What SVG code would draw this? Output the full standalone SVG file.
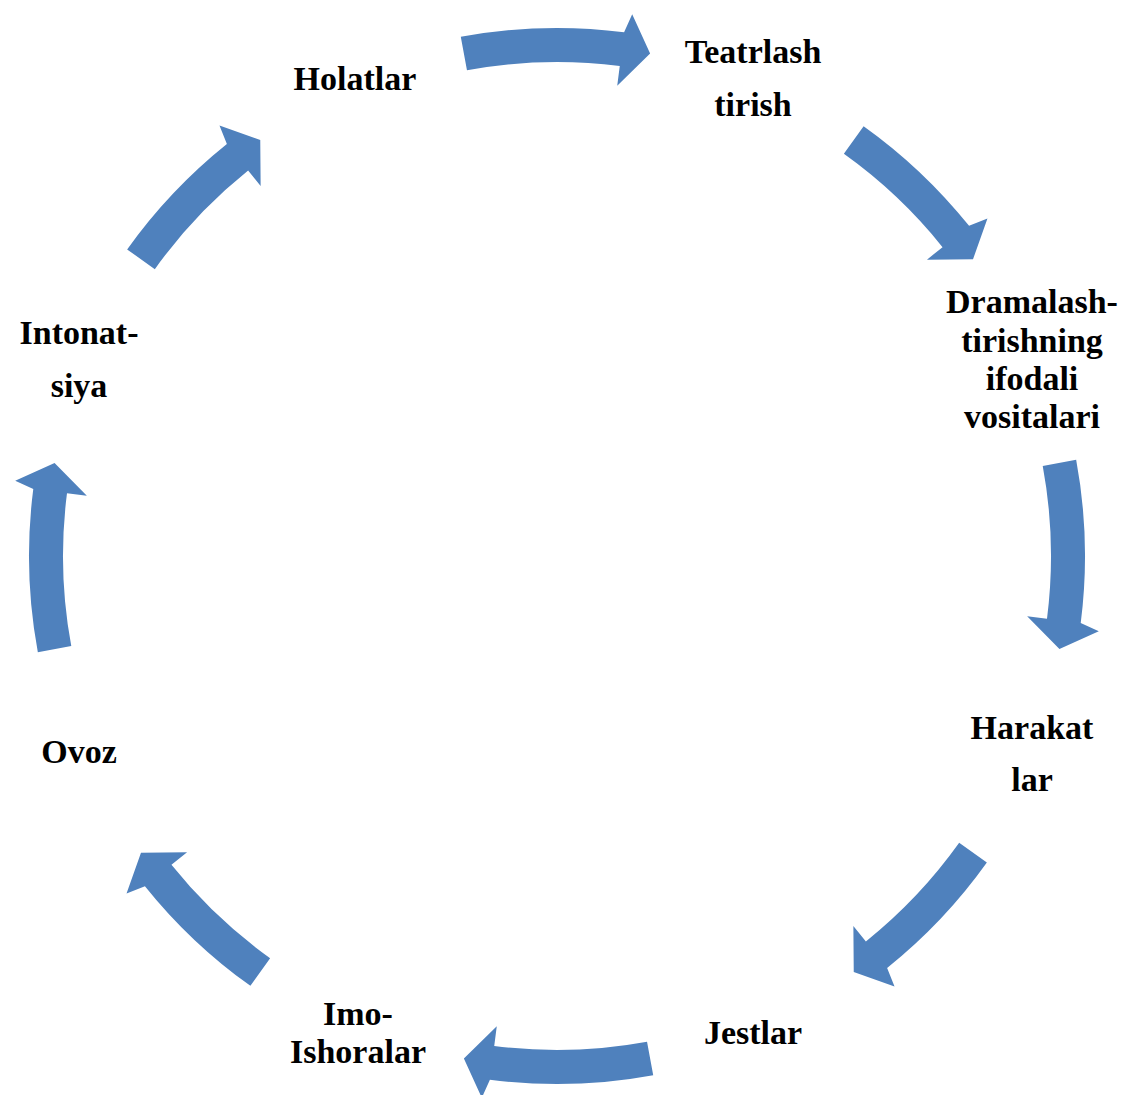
<svg xmlns="http://www.w3.org/2000/svg" xmlns:xlink="http://www.w3.org/1999/xlink" width="1127" height="1095" viewBox="0 0 1127 1095">
<style>
.arrow{fill:#4F81BD;stroke:none}
.lbl{font-family:"Liberation Serif","Times New Roman",serif;font-weight:bold;font-size:34px;fill:#000;text-anchor:middle}
</style>
<defs>
<path id="carrow" class="arrow" d="M460.78,36.84 A528,528 0 0 1 624.09,32.28 L632.2,14.2 L650.12,53.56 L617.23,85.84 L619.77,66.0 A494,494 0 0 0 466.97,70.27 Z"/>
<path id="darrow" class="arrow" d="M469.85,35.24 A528,528 0 0 1 614.94,31.19 L622.72,12.96 L641.34,52.0 L609.01,84.86 L611.21,64.98 A494,494 0 0 0 475.47,68.77 Z"/>
</defs>
<rect width="1127" height="1095" fill="#fff"/>
<g id="connectors">
<use xlink:href="#carrow" href="#carrow"/>
<use xlink:href="#darrow" href="#darrow" transform="rotate(45 557 556)"/>
<use xlink:href="#carrow" href="#carrow" transform="rotate(90 557 556)"/>
<use xlink:href="#darrow" href="#darrow" transform="rotate(135 557 556)"/>
<use xlink:href="#carrow" href="#carrow" transform="rotate(180 557 556)"/>
<use xlink:href="#darrow" href="#darrow" transform="rotate(225 557 556)"/>
<use xlink:href="#carrow" href="#carrow" transform="rotate(270 557 556)"/>
<use xlink:href="#darrow" href="#darrow" transform="rotate(315 557 556)"/>
</g>
<g id="node-holatlar"><text class="lbl" x="355" y="90">Holatlar</text></g>
<g id="node-teatrlash"><text class="lbl" x="753" y="63">Teatrlash</text><text class="lbl" x="753" y="116">tirish</text></g>
<g id="node-dramalash"><text class="lbl" x="1032" y="313">Dramalash-</text><text class="lbl" x="1032" y="352">tirishning</text><text class="lbl" x="1032" y="390">ifodali</text><text class="lbl" x="1032" y="428">vositalari</text></g>
<g id="node-harakatlar"><text class="lbl" x="1032" y="739">Harakat</text><text class="lbl" x="1032" y="791">lar</text></g>
<g id="node-jestlar"><text class="lbl" x="753" y="1044">Jestlar</text></g>
<g id="node-imo"><text class="lbl" x="358" y="1025">Imo-</text><text class="lbl" x="358" y="1063">Ishoralar</text></g>
<g id="node-ovoz"><text class="lbl" x="79" y="763">Ovoz</text></g>
<g id="node-intonatsiya"><text class="lbl" x="79" y="344">Intonat-</text><text class="lbl" x="79" y="397">siya</text></g>
</svg>
